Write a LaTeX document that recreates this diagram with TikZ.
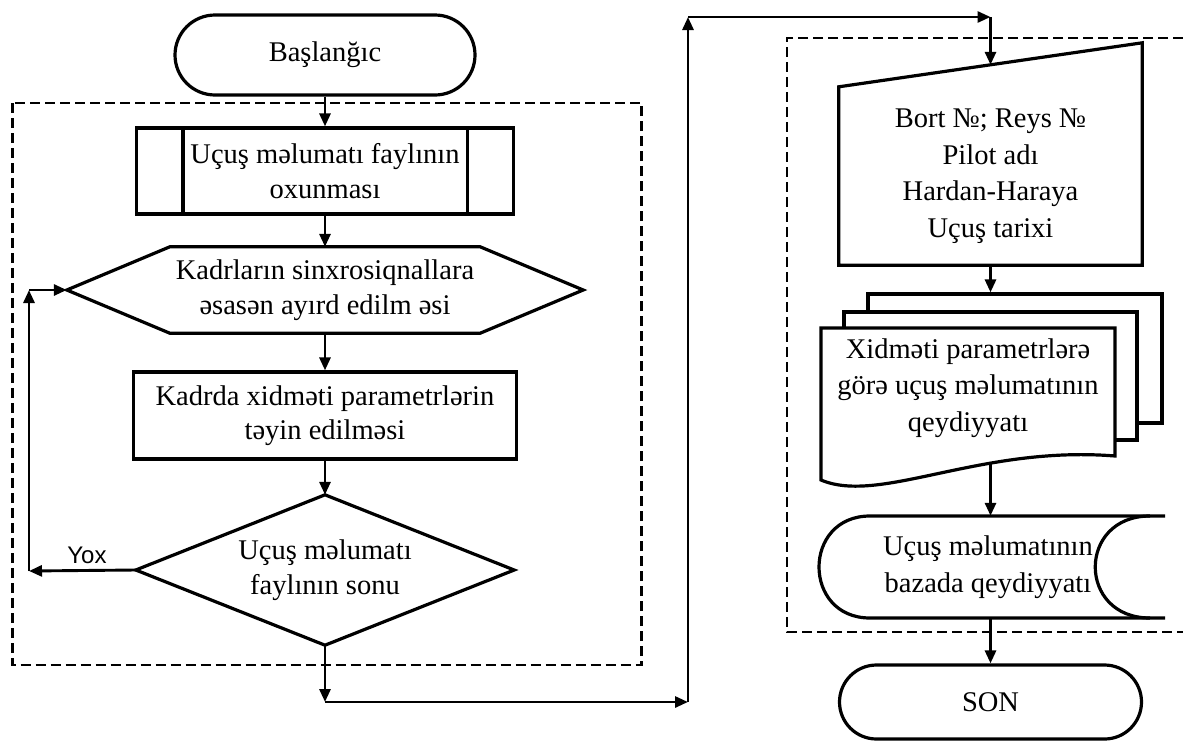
\documentclass[tikz,border=0pt]{standalone}
\usepackage{fontspec}
\setmainfont{Liberation Serif}
\newfontfamily\yoxfont{Liberation Sans}
\usetikzlibrary{arrows.meta,calc}
\begin{document}
\begin{tikzpicture}[x=1pt,y=-1pt,
  every node/.style={font=\fontsize{28.5}{34.5}\selectfont, align=center, inner sep=0pt},
  rtext/.style={font=\fontsize{28.5}{36.5}\selectfont},
  shp/.style={draw, line width=3.2pt},
  arr/.style={-{Triangle[length=13pt,width=11pt]}, line width=2.9pt},
  dashbox/.style={dash pattern=on 10pt off 5pt, line width=2.9pt},
  ]
\useasboundingbox (0,0) rectangle (1183,742);

% dashed groups
\draw[dashbox] (12.5,103) rectangle (641.5,665);
\draw[dashbox] (1183,38) -- (787,38) -- (787,632) -- (1183,632);

% left column
\node[shp, rounded corners=40pt, minimum width=300pt, minimum height=80pt] (start) at (325,55) {Başlanğıc};
\node[shp, minimum width=377pt, minimum height=86pt] (read) at (325,171) {Uçuş məlumatı faylının\\oxunması};
\draw[shp] ([xshift=48pt]read.north west) -- ([xshift=48pt]read.south west);
\draw[shp] ([xshift=-48pt]read.north east) -- ([xshift=-48pt]read.south east);

\node[minimum width=516pt, minimum height=86pt] (sync) at (325,290) {Kadrların sinxrosiqnallara\\əsasən ayırd edilm əsi};
\draw[shp] (sync.west) -- ([xshift=103pt]sync.north west) -- ([xshift=-103pt]sync.north east) -- (sync.east) -- ([xshift=-103pt]sync.south east) -- ([xshift=103pt]sync.south west) -- cycle;

\node[shp, minimum width=383pt, minimum height=87pt] (param) at (325,415.5) {Kadrda xidməti parametrlərin\\təyin edilməsi};

\node[minimum width=378pt, minimum height=150pt] (dec) at (325,570) {Uçuş məlumatı\\faylının sonu};
\draw[shp] (dec.north) -- (dec.east) -- (dec.south) -- (dec.west) -- cycle;

\node[font=\yoxfont\fontsize{24}{28}\selectfont] (yox) at (87,555) {Yox};

% right column
\node[rtext, minimum width=303pt, minimum height=178pt] (man) at (990.5,176) {Bort №; Reys №\\Pilot adı\\Hardan-Haraya\\Uçuş tarixi};
\draw[shp] (man.south west) -- (man.north west) -- ([yshift=44pt]man.north east) -- (man.south east) -- cycle;
\coordinate (mantop) at ($(man.north west)!0.5!([yshift=44pt]man.north east)$);

\node[shp, fill=white, minimum width=294pt, minimum height=129pt] (doc3) at (1015,358.5) {};
\node[shp, fill=white, minimum width=293pt, minimum height=128pt] (doc2) at (990.5,376) {};
\draw[shp, fill=white] (821,328) -- (1115,328) -- (1115,456) .. controls (980,445) and (880,505) .. (821,480) -- cycle;
\node[rtext] (doc) at (968,388) {Xidməti parametrlərə\\görə uçuş məlumatının\\qeydiyyatı};
\coordinate (docb) at (990.5,463);

\draw[shp] (1165,516) -- (870,516) .. controls (802,516) and (802,618) .. (870,618) -- (1165,618);
\draw[shp] (1150,516) .. controls (1077,516) and (1077,618) .. (1150,618);
\node[rtext, minimum width=300pt, minimum height=102pt] (store) at (988,567) {Uçuş məlumatının\\bazada qeydiyyatı};

\node[shp, rounded corners=37pt, minimum width=302pt, minimum height=74pt] (son) at (990.5,702) {SON};

% connectors
\coordinate (lb) at (29,571);
\coordinate (lt) at (29,290);
\coordinate (c1) at (325,702);
\coordinate (c2) at (688,702);
\coordinate (c3) at (688,17);
\coordinate (c4) at (990.5,17);

\draw[arr] (start.south) -- (read.north);
\draw[arr] (read.south) -- (sync.north);
\draw[arr] (sync.south) -- (param.north);
\draw[arr] (param.south) -- (dec.north);
\draw[arr] (dec.west) -- (lb);
\draw[arr] (lb) -- (lt);
\draw[arr] (lt) -- (sync.west);
\draw[arr] (dec.south) -- (c1);
\draw[arr] (c1) -- (c2);
\draw[arr] (c2) -- (c3);
\draw[arr] (c3) -- (c4);
\draw[arr] (c4) -- (mantop);
\draw[arr] (man.south) -- (man.south |- doc3.north);
\draw[arr] (docb) -- (store.north -| docb);
\draw[arr] (store.south -| docb) -- (son.north);
\end{tikzpicture}
\end{document}
